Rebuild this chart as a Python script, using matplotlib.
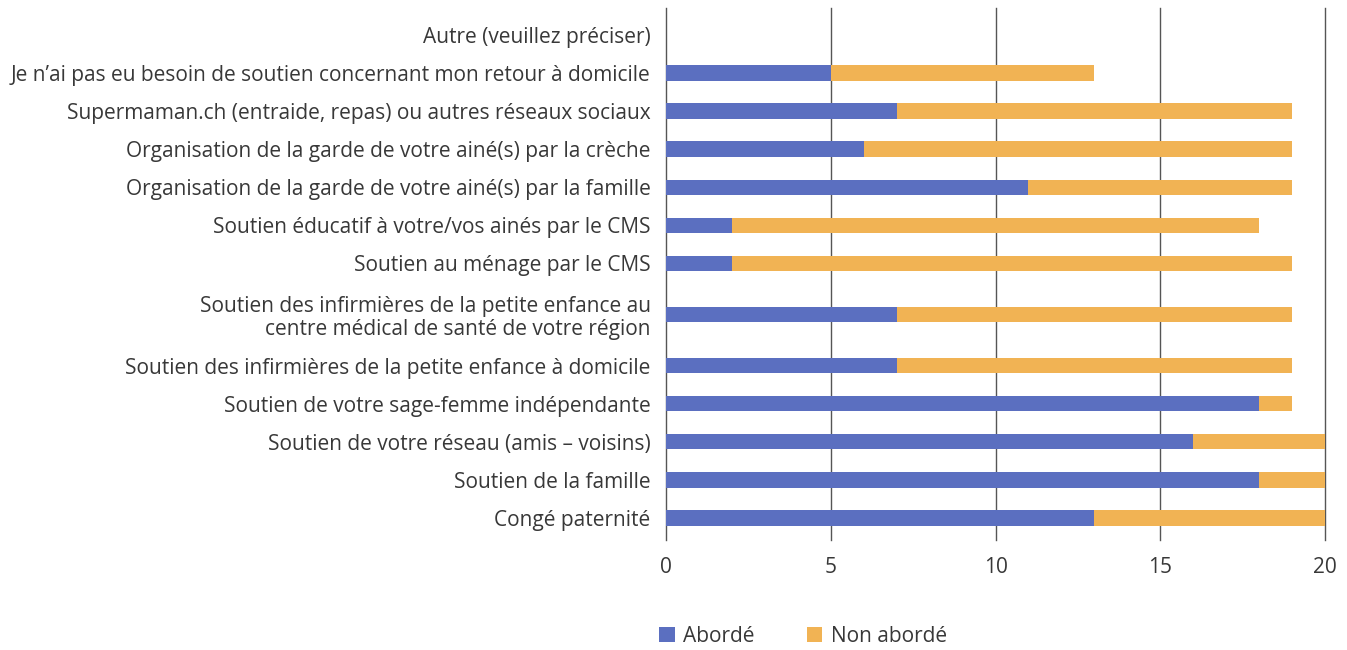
import matplotlib.pyplot as plt
import numpy as np

plt.rcParams['font.family'] = ['Open Sans', 'DejaVu Sans']

categories = [
    "Congé paternité",
    "Soutien de la famille",
    "Soutien de votre réseau (amis – voisins)",
    "Soutien de votre sage-femme indépendante",
    "Soutien des infirmières de la petite enfance à domicile",
    "Soutien des infirmières de la petite enfance au\ncentre médical de santé de votre région",
    "Soutien au ménage par le CMS",
    "Soutien éducatif à votre/vos ainés par le CMS",
    "Organisation de la garde de votre ainé(s) par la famille",
    "Organisation de la garde de votre ainé(s) par la crèche",
    "Supermaman.ch (entraide, repas) ou autres réseaux sociaux",
    "Je n’ai pas eu besoin de soutien concernant mon retour à domicile",
    "Autre (veuillez préciser)",
]
aborde = [13, 18, 16, 18, 7, 7, 2, 2, 11, 6, 7, 5, 0]
non_aborde = [7, 2, 4, 1, 12, 12, 17, 16, 8, 13, 12, 8, 0]

c_blue = '#5b6fc0'
c_orange = '#f1b354'
txt = '#383838'

# row positions: extra room around two-line labels
pos = [0.0]
for i in range(1, len(categories)):
    step = 1.0
    if '\n' in categories[i] or '\n' in categories[i - 1]:
        step = 1.35
    pos.append(pos[-1] + step)
pos = np.array(pos)

fig = plt.figure(figsize=(13.47, 6.5), dpi=100)
ax = fig.add_axes([666 / 1347, 1 - 540 / 650, (1325 - 666) / 1347, (540 - 8) / 650])

h = 0.4
ax.barh(pos, aborde, height=h, color=c_blue, label='Abordé', zorder=3)
ax.barh(pos, non_aborde, left=aborde, height=h, color=c_orange, label='Non abordé', zorder=3)

ax.set_xlim(0, 20)
ax.set_ylim(pos[0] - 0.58, pos[-1] + 0.71)
ax.set_xticks([0, 5, 10, 15, 20])
ax.set_yticks(pos)
ax.set_yticklabels(categories, fontsize=15, color=txt, linespacing=1.1)
ax.tick_params(axis='y', length=0, pad=11)
ax.tick_params(axis='x', length=0, pad=12, labelsize=15, labelcolor=txt)
for s in ax.spines.values():
    s.set_visible(False)
for x in [0, 5, 10, 15, 20]:
    ax.axvline(x, color='#555555', linewidth=1.0, zorder=2, clip_on=False)

fig.legend(loc='center', bbox_to_anchor=(803 / 1347, 1 - 636 / 650), ncol=2,
           frameon=False, fontsize=15, handlelength=0.75, handleheight=0.75,
           handletextpad=0.4, columnspacing=2.5, labelcolor=txt)

fig.savefig('out.png', dpi=100)
